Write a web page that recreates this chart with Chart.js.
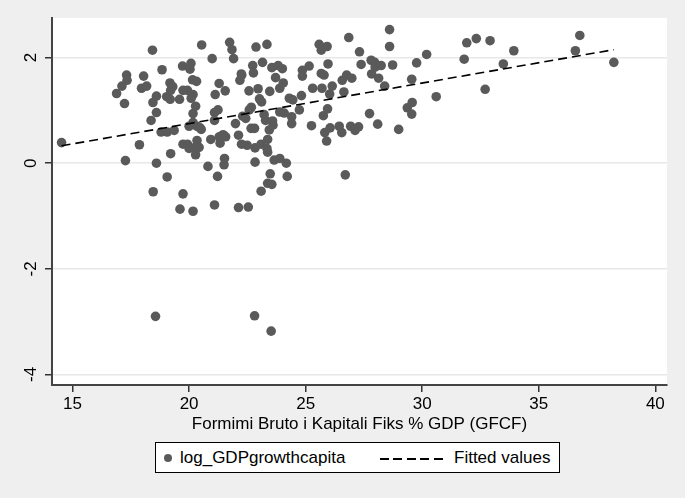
<!DOCTYPE html>
<html>
<head>
<meta charset="utf-8">
<script src="https://cdn.jsdelivr.net/npm/chart.js@4.4.0/dist/chart.umd.min.js"></script>
<style>
  html, body { margin: 0; padding: 0; background: #efefef; }
  #wrap { position: relative; width: 685px; height: 498px; }
  #legend {
    position: absolute; left: 155px; top: 442px; width: 405px; height: 31px;
    background: #fff; border: 1px solid #000; box-sizing: border-box;
    font-family: "Liberation Sans", Arial, sans-serif; font-size: 17px; color: #000;
  }
  #legend .dot { position: absolute; left: 8px; top: 11px; width: 8px; height: 8px; border-radius: 50%; background: #5a5a5a; }
  #legend .dash {
    position: absolute; left: 224px; top: 15px; width: 64px; height: 2px;
    background: repeating-linear-gradient(to right, #000 0 9px, transparent 9px 13.5px);
  }
  #legend .lbl { position: absolute; top: 5px; line-height: 19px; white-space: nowrap; }
</style>
</head>
<body>
<div id="wrap">
  <canvas id="myChart" width="685" height="498"></canvas>
  <div id="legend">
    <span class="dot"></span><span class="lbl" style="left:24px">log_GDPgrowthcapita</span>
    <span class="dash"></span><span class="lbl" style="left:298px">Fitted values</span>
  </div>
</div>
<script>
// GFCF (% of GDP) on x, log GDP growth per capita on y
const gfcf = [
  14.53, 16.89, 17.12, 17.32, 17.34, 17.23, 17.27, 17.87, 17.96, 18.05,
  18.18, 18.43, 18.37, 18.45, 18.6, 18.6, 18.46, 18.6, 18.56, 18.84,
  18.8, 19.04, 19.06, 19.18, 19.21, 19.19, 19.21, 19.3, 19.06, 19.36,
  19.59, 19.72, 19.74, 19.74, 19.74, 19.61, 19.93, 19.93, 20.08, 20.04,
  20.15, 20.17, 20.09, 20.0, 20.0, 20.17, 20.28, 20.32, 20.17, 20.28,
  20.34, 20.34, 20.28, 20.43, 20.47, 20.52, 20.54, 20.81, 20.93, 20.99,
  21.09, 21.12, 21.09, 21.09, 21.22, 21.24, 21.29, 21.29, 21.33, 21.46,
  21.5, 21.52, 21.55, 21.57, 21.74, 21.84, 21.91, 21.99, 22.12, 22.12,
  22.18, 22.24, 22.25, 22.26, 22.3, 22.43, 22.49, 22.54, 22.57, 22.58,
  22.67, 22.66, 22.73, 22.76, 22.81, 22.83, 22.83, 22.81, 22.87, 22.96,
  23.02, 23.11, 23.09, 23.09, 23.15, 23.22, 23.28, 23.34, 23.37, 23.34,
  23.37, 23.37, 23.48, 23.52, 23.46, 23.44, 23.55, 23.6, 23.58, 23.55,
  23.65, 23.71, 23.82, 23.89, 23.89, 23.89, 24.0, 24.04, 24.08, 24.17,
  24.21, 24.3, 24.4, 24.4, 24.45, 24.73, 24.82, 24.86, 24.86, 25.15,
  25.25, 25.3, 25.58, 25.67, 25.67, 25.7, 25.76, 25.79, 25.82, 25.9,
  25.92, 25.96, 25.94, 26.03, 26.05, 26.14, 26.44, 26.55, 26.57, 26.64,
  26.7, 26.76, 26.85, 26.98, 26.93, 27.12, 27.27, 27.31, 27.38, 27.74,
  27.81, 27.83, 27.96, 27.98, 28.13, 28.09, 28.24, 28.39, 28.6, 28.6,
  28.73, 28.99, 29.36, 29.55, 29.57, 29.55, 29.76, 30.19, 30.6, 31.8,
  31.91, 32.32, 32.7, 32.91, 33.48, 33.93, 36.57, 36.76, 38.22, 20.17
];
const growth = [
  0.39, 1.32, 1.46, 1.67, 1.57, 1.13, 0.05, 0.35, 1.42, 1.65,
  1.46, 2.14, 0.81, 1.15, 1.27, 0.96, -0.54, 0.0, -2.9, 1.77,
  0.59, 1.26, -0.26, 1.52, 1.38, 1.21, 0.18, 1.45, 0.59, 0.62,
  1.21, 1.84, 1.38, 0.36, -0.58, -0.87, 1.38, 0.36, 1.89, 1.78,
  1.58, 1.3, 1.23, 0.7, 0.28, 0.94, 1.08, 1.55, -0.91, 0.31,
  0.43, 0.7, 0.16, 0.3, 0.67, 0.64, 2.24, -0.06, 0.45, 1.98,
  -0.79, 1.3, 0.96, 0.81, -0.25, 1.01, 1.51, 0.5, 0.38, 0.54,
  -0.03, 0.09, 1.37, 0.5, 2.29, 2.15, 1.98, 0.75, 0.53, -0.84,
  1.57, 1.69, 0.36, 1.67, 0.89, 0.85, 0.34, -0.83, 1.37, 1.01,
  1.06, 0.66, 1.85, 1.71, 0.66, 0.29, 0.02, -2.89, 2.2, 1.41,
  1.22, 1.16, 0.36, -0.53, 1.91, 0.92, 0.81, 2.25, 0.45, 0.28,
  0.21, -0.38, -0.2, -3.18, 1.36, 0.63, 1.81, 0.72, 0.8, -0.4,
  0.06, 1.62, 1.85, 1.42, 0.09, 0.97, 1.79, 1.52, 0.95, 0.0,
  -0.25, 1.23, 0.88, 0.75, 1.2, 1.01, 1.28, 1.76, 1.65, 1.84,
  0.71, 1.42, 2.25, 2.14, 1.7, 1.42, 0.9, 1.67, 0.58, 0.42,
  2.21, 1.88, 1.03, 1.31, 0.67, 1.46, 0.7, 0.58, 1.57, 1.35,
  -0.22, 1.67, 2.38, 1.61, 0.7, 0.62, 0.69, 2.11, 1.87, 0.94,
  1.95, 1.69, 1.91, 1.82, 1.61, 0.74, 1.85, 1.46, 2.53, 2.21,
  1.86, 0.64, 1.05, 1.59, 1.15, 0.93, 1.9, 2.06, 1.26, 1.97,
  2.28, 2.36, 1.4, 2.32, 1.88, 2.13, 2.13, 2.42, 1.91, 0.77
];
// Fitted values line, end points
const fitX = [14.53, 38.22];
const fitY = [0.33, 2.15];

const xTicks = [15, 20, 25, 30, 35, 40];
const yTicks = [-4, -2, 0, 2];

const FONT = '"Liberation Sans", Arial, sans-serif';

// white plot region, grey around it
const plotBg = {
    id: 'plotBg',
    beforeDraw(chart) {
        const a = chart.chartArea;
        const ctx = chart.ctx;
        ctx.save();
        ctx.fillStyle = '#ffffff';
        ctx.fillRect(a.left, a.top, a.right - a.left, a.bottom - a.top);
        ctx.restore();
    }
};

function initChart() {
    const data = {
        datasets: [{
            label: 'log_GDPgrowthcapita',
            data: gfcf.map((x, i) => ({ x: x, y: growth[i] })),
            backgroundColor: '#5a5a5a',
            borderWidth: 0,
            pointRadius: 4.8,
            order: 2
        }, {
            label: 'Fitted values',
            type: 'line',
            data: fitX.map((x, i) => ({ x: x, y: fitY[i] })),
            borderColor: '#000000',
            borderWidth: 1.6,
            borderDash: [9, 5],
            pointRadius: 0,
            fill: false,
            order: 1
        }]
    };

    const config = {
        type: 'scatter',
        data: data,
        plugins: [plotBg],
        options: {
            responsive: false,
            animation: false,
            devicePixelRatio: 1,
            layout: { padding: { left: 0, top: 18, right: 18, bottom: 63 } },
            plugins: { legend: { display: false }, tooltip: { enabled: false } },
            scales: {
                x: {
                    type: 'linear',
                    min: 14.12,
                    max: 40.5,
                    afterBuildTicks: s => { s.ticks = xTicks.map(v => ({ value: v })); },
                    afterFit: s => { s.height = 50; },
                    ticks: { color: '#000', font: { family: FONT, size: 17 }, padding: 2, maxRotation: 0, autoSkip: false },
                    grid: { drawOnChartArea: false, tickLength: 7, tickColor: '#333', lineWidth: 1.5 },
                    border: { display: true, color: '#444', width: 2 },
                    title: {
                        display: true,
                        text: 'Formimi Bruto i Kapitali Fiks % GDP (GFCF)',
                        color: '#000',
                        font: { family: FONT, size: 17 },
                        padding: { top: 0, bottom: 0 }
                    }
                },
                y: {
                    type: 'linear',
                    min: -4.2,
                    max: 2.75,
                    afterBuildTicks: s => { s.ticks = yTicks.map(v => ({ value: v })); },
                    afterFit: s => { s.width = 52; },
                    ticks: { color: '#000', font: { family: FONT, size: 17 }, padding: 6, minRotation: 90, maxRotation: 90, crossAlign: 'center' },
                    grid: { color: '#e8e8e8', lineWidth: 1.5, tickLength: 7, tickColor: '#333' },
                    border: { display: true, color: '#444', width: 2 }
                }
            }
        }
    };
    new Chart(document.getElementById('myChart'), config);
}

document.addEventListener('DOMContentLoaded', function () {
    initChart();
});
</script>
</body>
</html>
